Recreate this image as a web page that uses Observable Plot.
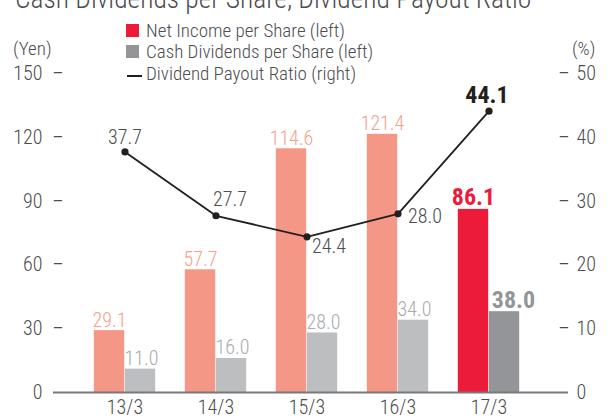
<!DOCTYPE html>
<html><head><meta charset="utf-8">
<script src="https://cdn.jsdelivr.net/npm/d3@7"></script>
<script src="https://cdn.jsdelivr.net/npm/@observablehq/plot@0.6"></script>
<style>
body{margin:0;background:#fff;}
#wrap{position:relative;width:608px;height:419px;overflow:hidden;font-family:'Roboto Condensed','Liberation Sans Narrow','DejaVu Sans Condensed',sans-serif;color:#4d4d4f;font-weight:300;}
.abs{position:absolute;white-space:nowrap;line-height:1;}
</style></head><body><div id="wrap"></div>
<script>
const categories = ["13/3", "14/3", "15/3", "16/3", "17/3"];
const netIncome = [29.1, 57.7, 114.6, 121.4, 86.1];
const dividends = [11.0, 16.0, 28.0, 34.0, 38.0];
const payoutRatio = [37.7, 27.7, 24.4, 28.0, 44.1];
const leftTicks = [0, 30, 60, 90, 120, 150];
const rightTicks = [0, 10, 20, 30, 40, 50];

const FONT = "'Roboto Condensed','Liberation Sans Narrow','DejaVu Sans Condensed',sans-serif";
const C = {salmon:"#f59787", red:"#ed1b3a", lgray:"#bcbec0", dgray:"#939598",
  salmonText:"#f59f8f", lgrayText:"#a9abae", text:"#4d4d4f", line:"#231f20", base:"#77787b"};

const data = categories.map((c, i) => ({cat: c, ni: netIncome[i], dv: dividends[i], pr: payoutRatio[i], last: i === categories.length - 1}));
const ratioToYen = 150 / 50;

const W = 608, H = 419, mL = 77, mR = 73, mT = 73, mB = 27;
const half = (W - mL - mR) / categories.length / 2;
const barW = 31;

const chart = Plot.plot({
  width: W, height: H, marginTop: mT, marginBottom: mB, marginLeft: mL, marginRight: mR,
  x: {type: "band", domain: categories, padding: 0, axis: null},
  y: {domain: [0, 150], axis: null},
  style: {fontFamily: FONT, fontSize: "20px", fontWeight: 300, color: C.text, background: "transparent", overflow: "visible"},
  marks: [
    Plot.barY(data, {x: "cat", y: "ni", fill: d => d.last ? C.red : C.salmon, insetLeft: half - barW, insetRight: half}),
    Plot.barY(data, {x: "cat", y: "dv", fill: d => d.last ? C.dgray : C.lgray, insetLeft: half, insetRight: half - barW}),
    Plot.ruleY([0], {stroke: C.base, strokeWidth: 2, insetLeft: -(mL - 53), insetRight: -(568 - (W - mR))}),
    Plot.text(data.filter(d => !d.last), {x: "cat", y: "ni", text: d => d.ni.toFixed(1), dx: -barW / 2, dy: -4, lineAnchor: "bottom", fill: C.salmonText}),
    Plot.text(data.filter(d => !d.last), {x: "cat", y: "dv", text: d => d.dv.toFixed(1), dx: barW / 2 + 1, dy: -4, lineAnchor: "bottom", fill: C.lgrayText}),
    Plot.text(data.filter(d => d.last), {x: "cat", y: "ni", text: d => d.ni.toFixed(1), dx: -barW / 2, dy: -4, lineAnchor: "bottom", fill: C.red, fontSize: 24, fontWeight: "bold"}),
    Plot.text(data.filter(d => d.last), {x: "cat", y: "dv", text: d => d.dv.toFixed(1), dx: barW / 2 + 9, dy: -4, lineAnchor: "bottom", fill: C.dgray, fontSize: 24, fontWeight: "bold"}),
    Plot.line(data, {x: "cat", y: d => d.pr * ratioToYen, stroke: C.line, strokeWidth: 1.8}),
    Plot.dot(data, {x: "cat", y: d => d.pr * ratioToYen, r: 3.6, fill: C.line}),
    Plot.text(data.filter((d, i) => i === 0), {x: "cat", y: d => d.pr * ratioToYen, text: d => d.pr.toFixed(1), dy: -8, lineAnchor: "bottom", fill: C.text}),
    Plot.text(data.filter((d, i) => i === 1), {x: "cat", y: d => d.pr * ratioToYen, text: d => d.pr.toFixed(1), dx: -3, dy: -10, textAnchor: "start", lineAnchor: "bottom", fill: C.text}),
    Plot.text(data.filter((d, i) => i === 2), {x: "cat", y: d => d.pr * ratioToYen, text: d => d.pr.toFixed(1), dx: 5, dy: 16, textAnchor: "start", lineAnchor: "bottom", fill: C.text}),
    Plot.text(data.filter((d, i) => i === 3), {x: "cat", y: d => d.pr * ratioToYen, text: d => d.pr.toFixed(1), dx: 10, dy: 9, textAnchor: "start", lineAnchor: "bottom", fill: C.text}),
    Plot.text(data.filter(d => d.last), {x: "cat", y: d => d.pr * ratioToYen, text: d => d.pr.toFixed(1), dx: -2, dy: -8, lineAnchor: "bottom", fill: C.line, fontSize: 24, fontWeight: "bold"}),
    Plot.text(leftTicks, {y: d => d, text: d => String(d), frameAnchor: "left", textAnchor: "end", dx: 42 - mL, fill: C.text}),
    Plot.text(leftTicks.filter(d => d !== 0), {y: d => d, text: () => "–", frameAnchor: "left", textAnchor: "middle", dx: 57.5 - mL, fill: C.text}),
    Plot.text(rightTicks, {y: d => d * ratioToYen, text: d => String(d), frameAnchor: "right", textAnchor: "start", dx: 576 - (W - mR), fill: C.text}),
    Plot.text(rightTicks.filter(d => d !== 0), {y: d => d * ratioToYen, text: () => "–", frameAnchor: "right", textAnchor: "middle", dx: 563.5 - (W - mR), fill: C.text}),
    Plot.text(categories, {x: d => d, text: d => d, frameAnchor: "bottom", lineAnchor: "top", dy: 7, fill: C.text})
  ]
});

const wrap = document.getElementById("wrap");
chart.style.position = "absolute";
chart.style.left = "0px";
chart.style.top = "0px";
wrap.appendChild(chart);

function addText(txt, left, baseline, size, extra) {
  const el = document.createElement("div");
  el.className = "abs";
  el.textContent = txt;
  el.style.fontSize = size + "px";
  el.style.left = left + "px";
  el.style.top = (baseline - 0.8465 * size) + "px";
  if (extra) Object.assign(el.style, extra);
  wrap.appendChild(el);
  return el;
}
addText("Cash Dividends per Share, Dividend Payout Ratio", 15, 8, 27.5);
addText("(Yen)", 13, 55, 19);
addText("(%)", 572, 55, 19);

const legend = [
  {label: "Net Income per Share (left)", kind: "box", color: C.red},
  {label: "Cash Dividends per Share (left)", kind: "box", color: C.dgray},
  {label: "Dividend Payout Ratio (right)", kind: "line", color: C.line}
];
const rowBase = [37, 58, 80];
legend.forEach((l, i) => {
  const sw = document.createElement("div");
  sw.style.position = "absolute";
  sw.style.background = l.color;
  if (l.kind === "box") {
    sw.style.left = "126px"; sw.style.width = "13px"; sw.style.height = "13px";
    sw.style.top = (rowBase[i] - 13) + "px";
  } else {
    sw.style.left = "127px"; sw.style.width = "15px"; sw.style.height = "2px";
    sw.style.top = (rowBase[i] - 5) + "px";
  }
  wrap.appendChild(sw);
  addText(l.label, 146, rowBase[i], 19);
});
</script></body></html>
